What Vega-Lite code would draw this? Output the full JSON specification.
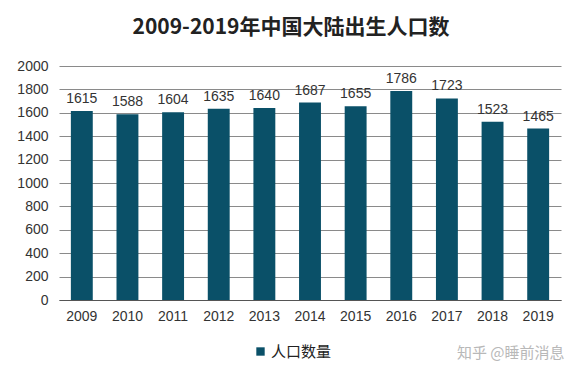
{
  "$schema": "https://vega.github.io/schema/vega-lite/v6.json",
  "width": 502,
  "height": 234,
  "autosize": "none",
  "padding": {"left": 59, "top": 66, "right": 21, "bottom": 80},
  "background": "white",
  "title": {
    "text": "2009-2019年中国大陆出生人口数",
    "font": "Noto Sans CJK SC",
    "fontSize": 21,
    "fontWeight": "bold",
    "color": "#222222",
    "anchor": "middle",
    "dx": -19,
    "offset": 21
  },
  "data": {
    "values": [
      {"year": "2009", "value": 1615, "series": "人口数量"},
      {"year": "2010", "value": 1588, "series": "人口数量"},
      {"year": "2011", "value": 1604, "series": "人口数量"},
      {"year": "2012", "value": 1635, "series": "人口数量"},
      {"year": "2013", "value": 1640, "series": "人口数量"},
      {"year": "2014", "value": 1687, "series": "人口数量"},
      {"year": "2015", "value": 1655, "series": "人口数量"},
      {"year": "2016", "value": 1786, "series": "人口数量"},
      {"year": "2017", "value": 1723, "series": "人口数量"},
      {"year": "2018", "value": 1523, "series": "人口数量"},
      {"year": "2019", "value": 1465, "series": "人口数量"}
    ]
  },
  "encoding": {
    "x": {
      "field": "year",
      "type": "ordinal",
      "scale": {"paddingInner": 0.52, "paddingOuter": 0.26},
      "axis": {
        "title": "知乎 @睡前消息",
        "titleFont": "Noto Sans CJK SC",
        "titleFontSize": 15,
        "titleFontWeight": "normal",
        "titleColor": "#b8b8b8",
        "titleAnchor": "end",
        "titleBaseline": "middle",
        "titleY": 52,
        "titleX": 505,
        "labelAngle": 0,
        "labelFont": "Liberation Sans",
        "labelFontSize": 14,
        "labelColor": "#333333",
        "labelPadding": 9,
        "ticks": false,
        "domainColor": "#555555",
        "domainWidth": 1.2
      }
    },
    "y": {
      "field": "value",
      "type": "quantitative",
      "scale": {"domain": [0, 2000]},
      "axis": {
        "title": null,
        "format": "d",
        "values": [0, 200, 400, 600, 800, 1000, 1200, 1400, 1600, 1800, 2000],
        "labelFont": "Liberation Sans",
        "labelFontSize": 14,
        "labelColor": "#333333",
        "labelPadding": 11,
        "ticks": false,
        "domain": false,
        "gridColor": "#8a8a8a",
        "gridWidth": 1
      }
    }
  },
  "layer": [
    {
      "mark": {"type": "bar", "color": "#0A5068"},
      "encoding": {
        "color": {
          "field": "series",
          "type": "nominal",
          "scale": {"range": ["#0A5068"]},
          "legend": {
            "title": null,
            "orient": "none",
            "legendX": 194,
            "legendY": 278,
            "symbolType": "square",
            "symbolSize": 70,
            "symbolStrokeWidth": 0,
            "labelFont": "Noto Sans CJK SC",
            "labelFontSize": 15,
            "labelColor": "#222222",
            "labelOffset": 3
          }
        }
      }
    },
    {
      "mark": {
        "type": "text",
        "baseline": "bottom",
        "dy": -5,
        "font": "Liberation Sans",
        "fontSize": 14,
        "color": "#333333"
      },
      "encoding": {
        "text": {"field": "value", "type": "quantitative", "format": "d"}
      }
    }
  ],
  "config": {
    "view": {"stroke": null}
  }
}
